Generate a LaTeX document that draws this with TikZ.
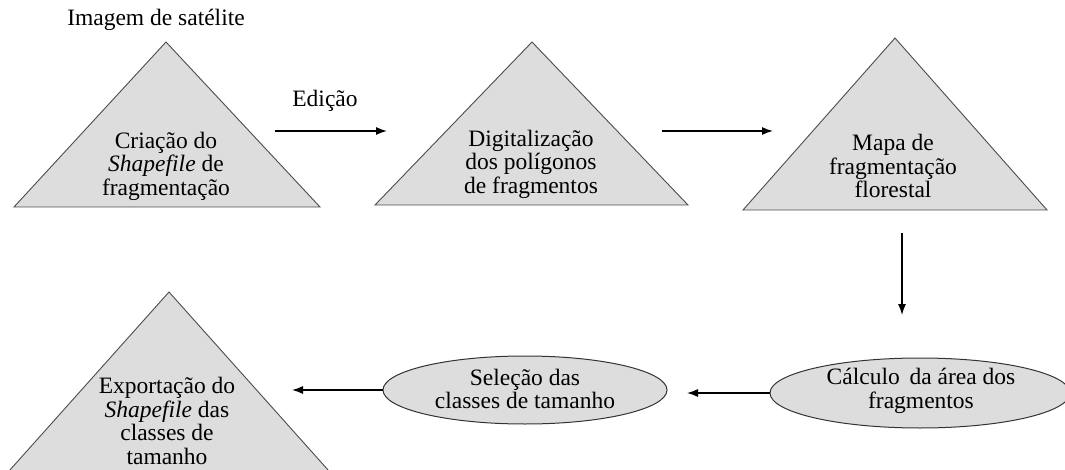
\documentclass[tikz,border=0pt]{standalone}
\usepackage{fontspec}
\setmainfont{Liberation Serif}
\usetikzlibrary{arrows.meta,shapes.geometric}
\begin{document}
\begin{tikzpicture}[x=1pt,y=-1pt,
  tri/.style={draw=black!70, fill=gray!27, line width=0.9pt, line join=miter},
  lbl/.style={align=center, font=\fontsize{23.5}{23.5}\selectfont, inner sep=0pt},
  oval/.style={ellipse, draw=black!80, fill=gray!27, line width=1pt, inner sep=0pt},
  arr/.style={line width=1.3pt, -{Latex[length=11pt,width=8pt]}}]
\useasboundingbox (0,0) rectangle (1065,470);
\clip (0,0) rectangle (1065,470);
% triangles
\draw[tri] (166,42) -- (320,207) -- (14,207) -- cycle;
\draw[tri] (532,42) -- (688,205) -- (375,205) -- cycle;
\draw[tri] (895,38) -- (1047,210) -- (743,210) -- cycle;
\draw[tri] (169,292) -- (337,480) -- (1,480) -- cycle;
% triangle texts
\node[lbl] (top) at (156,20) {Imagem de satélite};
\node[lbl] (t1) at (166,166) {Criação do\\\textit{Shapefile} de\\fragmentação};
\node[lbl] (t2) at (531,164) {Digitalização\\dos polígonos\\de fragmentos};
\node[lbl] (t3) at (893,166) {Mapa de\\fragmentação\\florestal};
\node[lbl] (t4) at (167,421) {Exportação do\\\textit{Shapefile} das\\classes de\\tamanho};
% ellipses
\node[oval, minimum width=284pt, minimum height=68pt] (sel) at (525,390) {};
\node[lbl] (selt) at (525,389) {Seleção das\\classes de tamanho};
\node[oval, minimum width=300pt, minimum height=70pt] (calc) at (920,393) {};
\node[lbl] (calct) at (921,391) {Cálculo\, da área dos\\fragmentos};
% arrows
\coordinate (a1s) at (275,131); \coordinate (a1e) at (387,131);
\coordinate (a2s) at (662,131); \coordinate (a2e) at (773,131);
\coordinate (a3s) at (902,233); \coordinate (a3e) at (902,315);
\coordinate (a4e) at (687,393);
\coordinate (a5e) at (292,390);
\draw[arr] (a1s) -- (a1e);
\node[lbl] (ed) at (325,101) {Edição};
\draw[arr] (a2s) -- (a2e);
\draw[arr] (a3s) -- (a3e);
\draw[arr] (calc.west) -- (a4e);
\draw[arr] (sel.west) -- (a5e);
\end{tikzpicture}
\end{document}
